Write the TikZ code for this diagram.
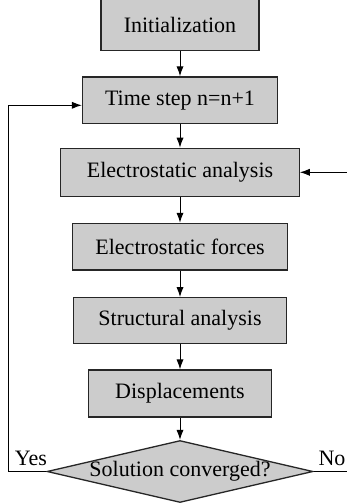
\documentclass[tikz,border=0pt]{standalone}
\usepackage{fontspec}
\setmainfont{Liberation Serif}
\usetikzlibrary{shapes.geometric,arrows.meta}
\begin{document}
\begin{tikzpicture}[x=0.5pt, y=-0.5pt, line width=0.5pt, >={Latex[length=5pt,width=3.6pt]},
    font=\fontsize{11}{13}\selectfont,
    box/.style={draw=black!85, fill=gray!40, line width=0.65pt, inner sep=0pt},
    test/.style={box, shape=diamond, aspect=4.3, inner sep=-1pt}]
  \useasboundingbox (0,0) rectangle (347,503);
  % main chain
  \node[box, minimum width=79pt, minimum height=25.2pt] (init) at (180,25) {Initialization};
  \node[box, minimum width=97.5pt, minimum height=23.4pt] (time) at (180,100.3) {Time step n=n+1};
  \node[box, minimum width=119.2pt, minimum height=24.2pt] (elec) at (180,172.5) {Electrostatic analysis};
  \node[box, minimum width=107.3pt, minimum height=23.3pt] (forces) at (180,246.7) {Electrostatic forces};
  \node[box, minimum width=106.8pt, minimum height=22.8pt] (struct) at (180,320.5) {Structural analysis};
  \node[box, minimum width=91.5pt, minimum height=23.5pt] (disp) at (180,393.5) {Displacements};
  \node[test, minimum width=133pt, minimum height=31pt] (conv) at (180,471.5) {Solution converged?};
  \draw[->] (init) -- (time);
  \draw[->] (time) -- (elec);
  \draw[->] (elec) -- (forces);
  \draw[->] (forces) -- (struct);
  \draw[->] (struct) -- (disp);
  \draw[->] (disp) -- (conv);
  % yes: next time step
  \coordinate (yescorner) at (8.3,471.5);
  \coordinate (backcorner) at (8.3,105.3);
  \draw[->] (conv.west) -- (yescorner) -- (backcorner) -- (backcorner -| time.west);
  \node (yeslbl) at (31,458) {Yes};
  % no: iterate again
  \coordinate (noend) at (347,471.5);
  \coordinate (retstart) at (347,172.3);
  \draw (conv.east) -- (noend);
  \draw[->] (retstart) -- (retstart -| elec.east);
  \node (nolbl) at (332,458) {No};
\end{tikzpicture}
\end{document}
